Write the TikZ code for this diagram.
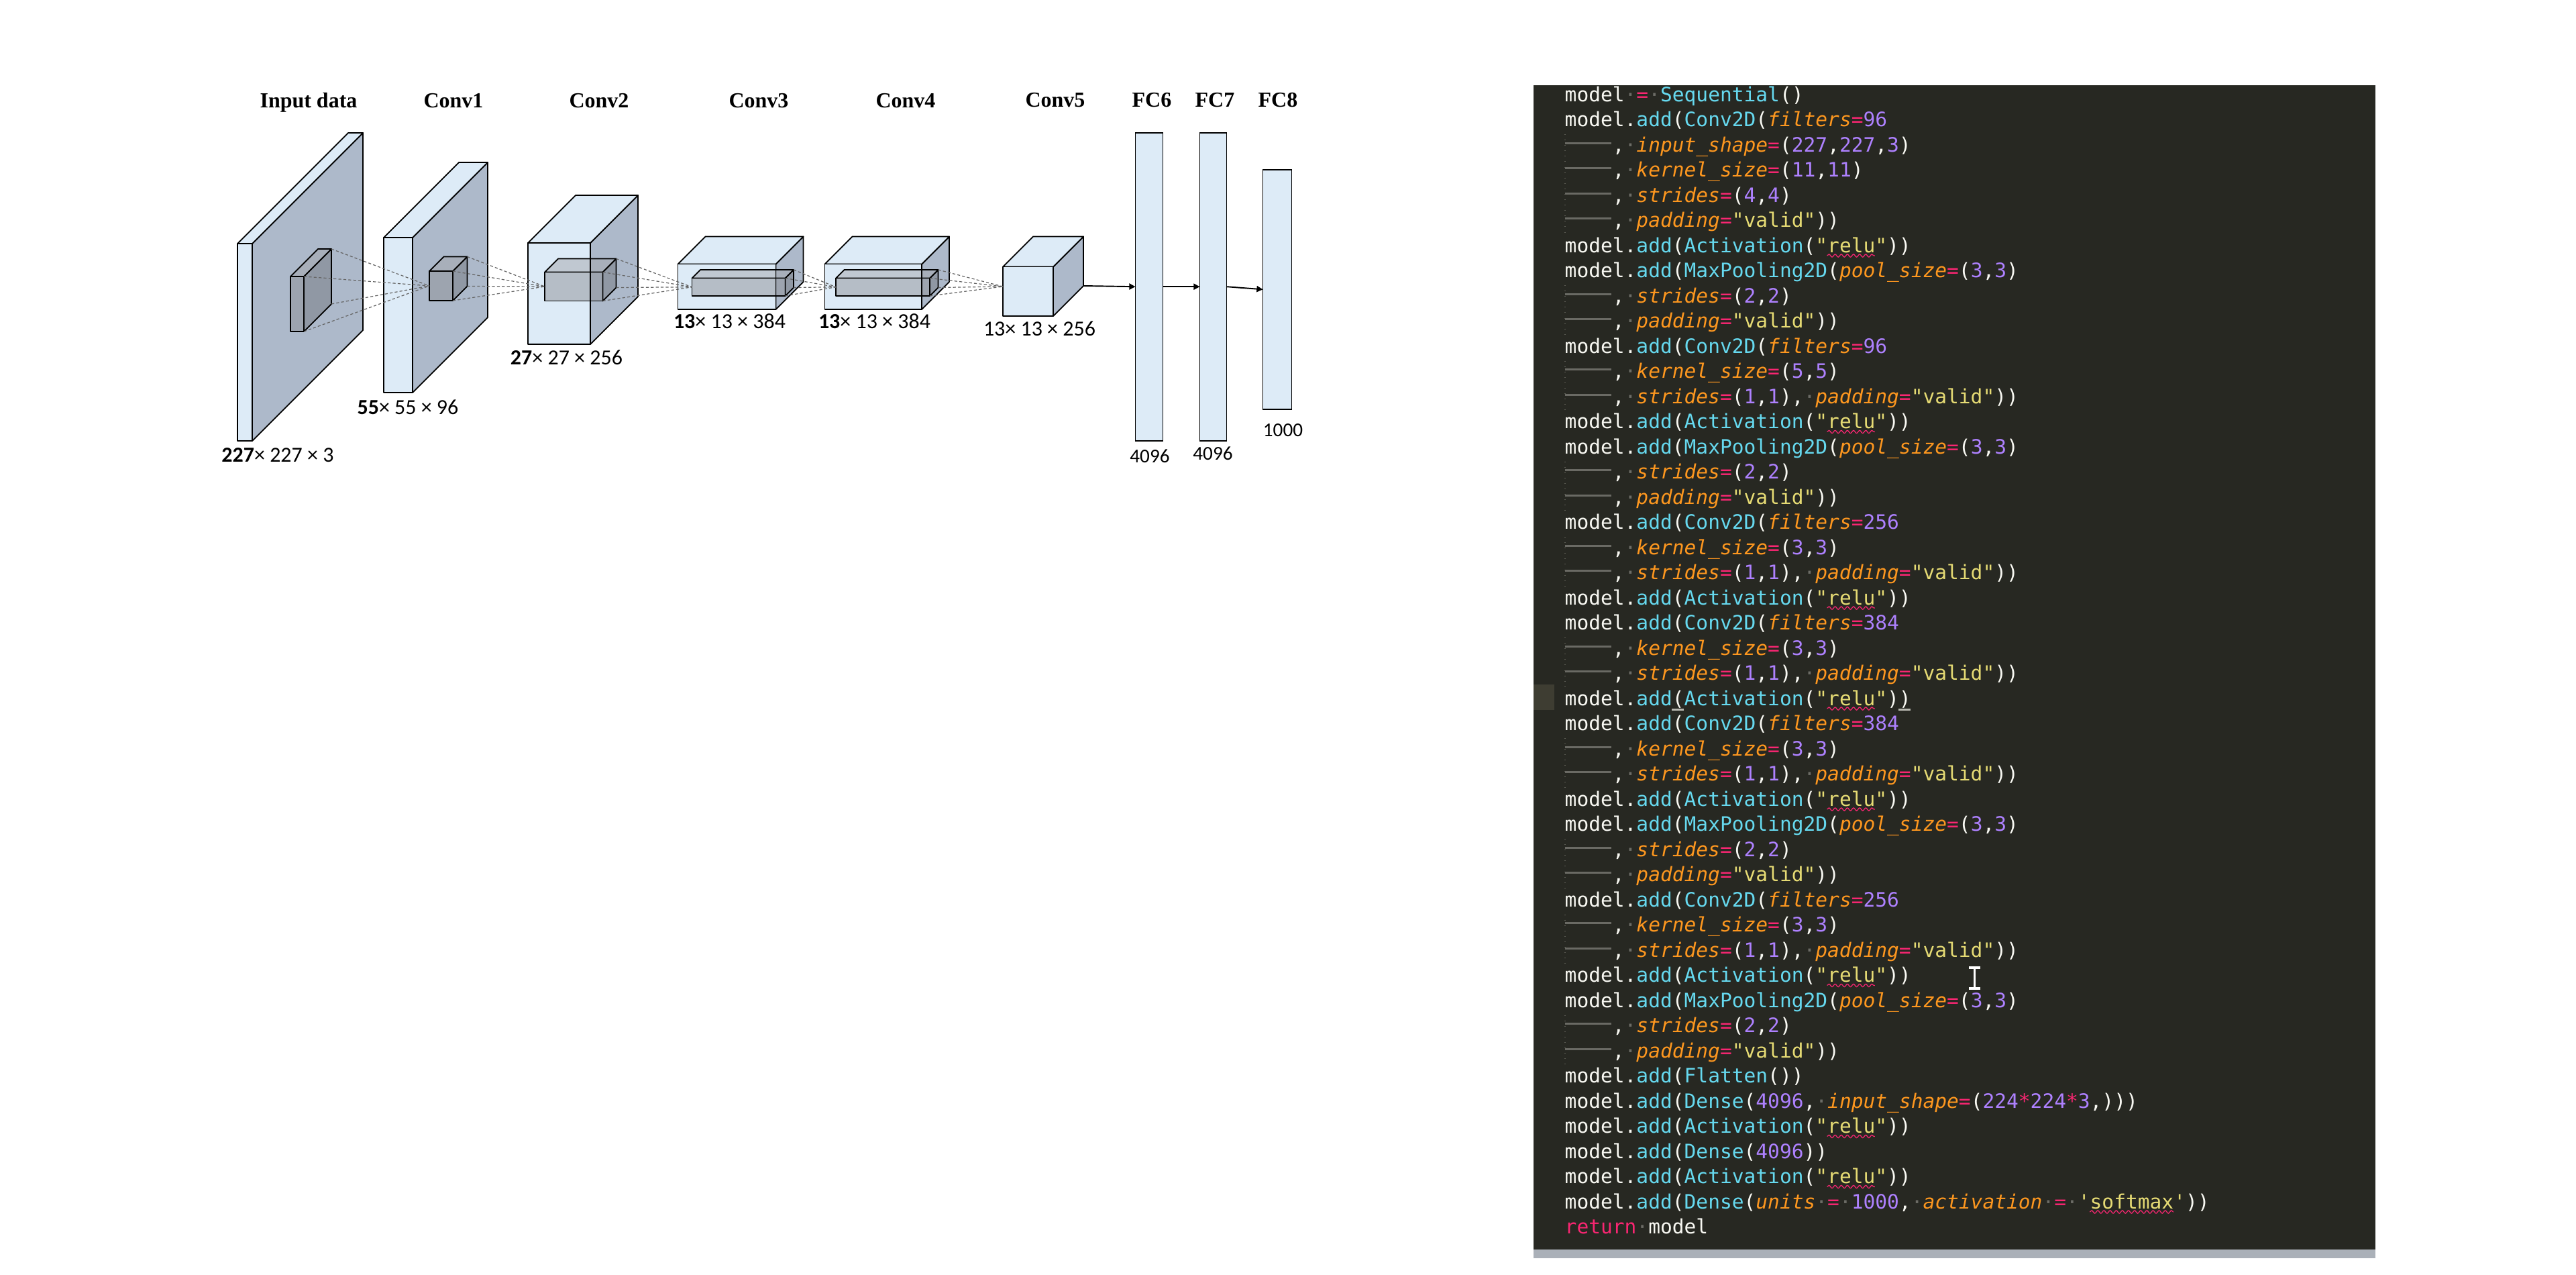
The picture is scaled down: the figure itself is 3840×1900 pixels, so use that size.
\documentclass[tikz,border=0pt]{standalone}
\usepackage{fontspec}
\setmonofont{DejaVu Sans Mono}
\newfontfamily\headserif{Liberation Serif}
\newfontfamily\dimsans{Carlito}
\usetikzlibrary{arrows.meta,decorations.pathmorphing}

\definecolor{faceblue}{HTML}{DDEBF7}
\definecolor{facegray}{HTML}{ADB9CA}
\definecolor{kerngray}{HTML}{8E9196}
\definecolor{kernlight}{HTML}{A4A7AC}
\definecolor{kerndark}{HTML}{75797F}
\definecolor{raygray}{HTML}{666666}
\definecolor{editorbg}{HTML}{272822}
\definecolor{gutterhl}{HTML}{3E3D32}
\definecolor{stripgray}{HTML}{AAB0B8}
\definecolor{cwhite}{HTML}{F8F8F2}
\definecolor{cpink}{HTML}{F92672}
\definecolor{ccyan}{HTML}{66D9EF}
\definecolor{corange}{HTML}{FD971F}
\definecolor{cpurple}{HTML}{AE81FF}
\definecolor{cyellow}{HTML}{E6DB74}
\definecolor{cdot}{HTML}{6C6C66}
\definecolor{ctab}{HTML}{6A6A64}
\definecolor{cguide}{HTML}{5A5A52}
\definecolor{cmatch}{HTML}{B8B8B0}

% code tokens
\newcommand{\cop}[1]{\textcolor{cpink}{#1}}
\newcommand{\cfn}[1]{\textcolor{ccyan}{#1}}
\newcommand{\cpa}[1]{\textcolor{corange}{\itshape #1}}
\newcommand{\cnb}[1]{\textcolor{cpurple}{#1}}
\newcommand{\cst}[1]{\textcolor{cyellow}{#1}}
\newcommand{\ws}{\textcolor{cdot}{·}}
\newcommand{\tabbar}{\makebox[2.408em][l]{\textcolor{ctab}{\rule[0.38em]{2.33em}{0.11em}}}}

% name, kind, x, y, w, h, depth
\newcommand{\cuboid}[7]{%
  \coordinate (#1-ftl) at (#3,#4);
  \coordinate (#1-ftr) at ({#3+#5},#4);
  \coordinate (#1-fbr) at ({#3+#5},{#4+#6});
  \coordinate (#1-btr) at ({#3+#5+#7},{#4-#7});
  \coordinate (#1-bbr) at ({#3+#5+#7},{#4+#6-#7});
  \coordinate (#1-lm) at (#3,{#4+#6/2});
  \filldraw[#2side] (#1-ftr) -- (#1-btr) -- (#1-bbr) -- (#1-fbr) -- cycle;
  \filldraw[#2top] (#1-ftl) -- ++(#7,-#7) -- (#1-btr) -- (#1-ftr) -- cycle;
  \filldraw[#2front] (#1-ftl) rectangle (#1-fbr);
}

\tikzset{
  boxfront/.style={fill=faceblue, draw=black, line width=0.5pt, line join=round},
  boxtop/.style={fill=faceblue, draw=black, line width=0.5pt, line join=round},
  boxside/.style={fill=facegray, draw=black, line width=0.5pt, line join=round},
  kernfront/.style={fill=kerngray, fill opacity=0.5, draw=black, line width=0.5pt, line join=round},
  kerntop/.style={fill=kernlight, fill opacity=0.5, draw=black, line width=0.5pt, line join=round},
  kernside/.style={fill=kerndark, fill opacity=0.5, draw=black, line width=0.5pt, line join=round},
  boxedge/.style={draw=black, line width=0.5pt},
  rays/.style={draw=raygray, line width=0.35pt, dash pattern=on 1.2pt off 0.9pt},
  flow/.style={-{Triangle[length=2.6pt,width=2.6pt]}, line width=0.55pt},
  fcbar/.style={fill=faceblue, draw=black, line width=0.5pt, inner sep=0pt, outer sep=0pt},
  layerhead/.style={anchor=base, inner sep=0pt, font=\headserif\bfseries\fontsize{9.1}{11}\selectfont},
  dimlabel/.style={anchor=base, inner sep=0pt, font=\dimsans\fontsize{9.1}{11}\selectfont},
  fcnum/.style={anchor=base, inner sep=0pt, font=\dimsans\fontsize{8.3}{10}\selectfont},
  codeline/.style={anchor=base west, inner sep=0pt, text=cwhite, font=\ttfamily\fontsize{8.41}{10}\selectfont},
  indentguide/.style={draw=cguide, line width=0.3pt, dotted},
  squiggle/.style={draw=cpink, line width=0.35pt, decorate, decoration={snake, amplitude=0.6pt, segment length=2.6pt}},
  ibeam/.style={draw=white, line width=0.9pt},
}

\begin{document}
\begin{tikzpicture}[x=0.1mm, y=-0.1mm]
  \useasboundingbox (0,0) rectangle (3840,1900);
  \fill[white] (0,0) rectangle (3840,1900);

  % layer titles
  \node[layerhead] (hin) at (460,160) {Input data};
  \node[layerhead] (hc1) at (676,160) {Conv1};
  \node[layerhead] (hc2) at (893,160) {Conv2};
  \node[layerhead] (hc3) at (1131,160) {Conv3};
  \node[layerhead] (hc4) at (1350,160) {Conv4};
  \node[layerhead] (hc5) at (1573,159) {Conv5};
  \node[layerhead] (hfc6) at (1717,159) {FC6};
  \node[layerhead] (hfc7) at (1811,159) {FC7};
  \node[layerhead] (hfc8) at (1905,159) {FC8};

  % feature maps and kernels
  \cuboid{in}{box}{354}{363}{22}{294}{165}
  \cuboid{ink}{kern}{433}{412}{20}{82}{41}
  \cuboid{c1}{box}{572}{354}{43}{231}{112}
  \cuboid{c1k}{kern}{640}{404}{35}{44}{21.5}
  \cuboid{c2}{box}{787}{362}{93}{151}{71}
  \cuboid{c2k}{kern}{812}{405.5}{86.5}{43}{20}
  \draw[boxedge] (c2-ftr) -- (c2-fbr);
  \cuboid{c3}{box}{1010.5}{393.5}{146}{67.5}{41}
  \cuboid{c3k}{kern}{1031.5}{414.5}{139}{26.5}{12.5}
  \draw[boxedge] (c3-ftr) -- (c3-fbr);
  \cuboid{c4}{box}{1229.5}{393.5}{144.5}{67.5}{41}
  \cuboid{c4k}{kern}{1246}{414.5}{140}{26.5}{12.5}
  \draw[boxedge] (c4-ftr) -- (c4-fbr);
  \cuboid{c5}{box}{1495}{397.5}{75}{73.5}{45}
  \coordinate (c5-in) at (1495,427);

  % receptive field rays
  \foreach \k/\n in {ink/c1k-lm, c1k/c2k-lm, c2k/c3k-lm, c3k/c4k-lm, c4k/c5-in}
    \foreach \c in {ftr,btr,bbr,fbr}
      \draw[rays] (\k-\c) -- (\n);

  % fully connected layers
  \node[fcbar, minimum width=4.1mm, minimum height=45.9mm] (fc6) at (1713,427.2) {};
  \node[fcbar, minimum width=4.0mm, minimum height=45.9mm] (fc7) at (1808.5,427.2) {};
  \node[fcbar, minimum width=4.3mm, minimum height=35.7mm] (fc8) at (1904,431.3) {};
  \draw[flow] (c5-bbr) -- (fc6.west);
  \draw[flow] (fc6.east) -- (fc7.west);
  \draw[flow] (fc7.east) -- (fc8.west);

  % sizes
  \node[dimlabel] (din) at (414,688) {\textbf{227}× 227 × 3};
  \node[dimlabel] (dc1) at (608,617) {\textbf{55}× 55 × 96};
  \node[dimlabel] (dc2) at (844.5,543) {\textbf{27}× 27 × 256};
  \node[dimlabel] (dc3) at (1087.5,489.5) {\textbf{13}× 13 × 384};
  \node[dimlabel] (dc4) at (1303.5,489.5) {\textbf{13}× 13 × 384};
  \node[dimlabel] (dc5) at (1549.5,500.5) {13× 13 × 256};
  \node[fcnum] (dfc6) at (1714,689) {4096};
  \node[fcnum] (dfc7) at (1808,685) {4096};
  \node[fcnum] (dfc8) at (1912.5,650) {1000};

  % editor panel
  \fill[editorbg] (2286,127) rectangle (3541,1862);
  \fill[stripgray] (2286,1862) rectangle (3541,1875);
  \fill[gutterhl] (2286,1020) rectangle (2317,1058);
  \fill[cmatch] (2492.2,1056) rectangle (2510,1059);
  \fill[cmatch] (2830.4,1056) rectangle (2848.2,1059);
  \foreach \a/\b in {3/6, 9/10, 12/13, 16/17, 19/20, 23/24, 27/28, 31/32, 34/35, 38/39}
    \draw[indentguide] (2333,{151+(\a-1)*37.5-26}) -- (2333,{151+(\b-1)*37.5+11.5});

  \node[codeline] (l1) at (2332,151) {model\ws\cop{=}\ws\cfn{Sequential}()};
  \node[codeline] (l2) at (2332,188.5) {model.\cfn{add}(\cfn{Conv2D}(\cpa{filters}\cop{=}\cnb{96}};
  \node[codeline] (l3) at (2332,226) {\tabbar,\ws\cpa{input\_shape}\cop{=}(\cnb{227},\cnb{227},\cnb{3})};
  \node[codeline] (l4) at (2332,263.5) {\tabbar,\ws\cpa{kernel\_size}\cop{=}(\cnb{11},\cnb{11})};
  \node[codeline] (l5) at (2332,301) {\tabbar,\ws\cpa{strides}\cop{=}(\cnb{4},\cnb{4})};
  \node[codeline] (l6) at (2332,338.5) {\tabbar,\ws\cpa{padding}\cop{=}\cst{"valid"}))};
  \node[codeline] (l7) at (2332,376) {model.\cfn{add}(\cfn{Activation}(\cst{"relu"}))};
  \node[codeline] (l8) at (2332,413.5) {model.\cfn{add}(\cfn{MaxPooling2D}(\cpa{pool\_size}\cop{=}(\cnb{3},\cnb{3})};
  \node[codeline] (l9) at (2332,451) {\tabbar,\ws\cpa{strides}\cop{=}(\cnb{2},\cnb{2})};
  \node[codeline] (l10) at (2332,488.5) {\tabbar,\ws\cpa{padding}\cop{=}\cst{"valid"}))};
  \node[codeline] (l11) at (2332,526) {model.\cfn{add}(\cfn{Conv2D}(\cpa{filters}\cop{=}\cnb{96}};
  \node[codeline] (l12) at (2332,563.5) {\tabbar,\ws\cpa{kernel\_size}\cop{=}(\cnb{5},\cnb{5})};
  \node[codeline] (l13) at (2332,601) {\tabbar,\ws\cpa{strides}\cop{=}(\cnb{1},\cnb{1}),\ws\cpa{padding}\cop{=}\cst{"valid"}))};
  \node[codeline] (l14) at (2332,638.5) {model.\cfn{add}(\cfn{Activation}(\cst{"relu"}))};
  \node[codeline] (l15) at (2332,676) {model.\cfn{add}(\cfn{MaxPooling2D}(\cpa{pool\_size}\cop{=}(\cnb{3},\cnb{3})};
  \node[codeline] (l16) at (2332,713.5) {\tabbar,\ws\cpa{strides}\cop{=}(\cnb{2},\cnb{2})};
  \node[codeline] (l17) at (2332,751) {\tabbar,\ws\cpa{padding}\cop{=}\cst{"valid"}))};
  \node[codeline] (l18) at (2332,788.5) {model.\cfn{add}(\cfn{Conv2D}(\cpa{filters}\cop{=}\cnb{256}};
  \node[codeline] (l19) at (2332,826) {\tabbar,\ws\cpa{kernel\_size}\cop{=}(\cnb{3},\cnb{3})};
  \node[codeline] (l20) at (2332,863.5) {\tabbar,\ws\cpa{strides}\cop{=}(\cnb{1},\cnb{1}),\ws\cpa{padding}\cop{=}\cst{"valid"}))};
  \node[codeline] (l21) at (2332,901) {model.\cfn{add}(\cfn{Activation}(\cst{"relu"}))};
  \node[codeline] (l22) at (2332,938.5) {model.\cfn{add}(\cfn{Conv2D}(\cpa{filters}\cop{=}\cnb{384}};
  \node[codeline] (l23) at (2332,976) {\tabbar,\ws\cpa{kernel\_size}\cop{=}(\cnb{3},\cnb{3})};
  \node[codeline] (l24) at (2332,1013.5) {\tabbar,\ws\cpa{strides}\cop{=}(\cnb{1},\cnb{1}),\ws\cpa{padding}\cop{=}\cst{"valid"}))};
  \node[codeline] (l25) at (2332,1051) {model.\cfn{add}(\cfn{Activation}(\cst{"relu"}))};
  \node[codeline] (l26) at (2332,1088.5) {model.\cfn{add}(\cfn{Conv2D}(\cpa{filters}\cop{=}\cnb{384}};
  \node[codeline] (l27) at (2332,1126) {\tabbar,\ws\cpa{kernel\_size}\cop{=}(\cnb{3},\cnb{3})};
  \node[codeline] (l28) at (2332,1163.5) {\tabbar,\ws\cpa{strides}\cop{=}(\cnb{1},\cnb{1}),\ws\cpa{padding}\cop{=}\cst{"valid"}))};
  \node[codeline] (l29) at (2332,1201) {model.\cfn{add}(\cfn{Activation}(\cst{"relu"}))};
  \node[codeline] (l30) at (2332,1238.5) {model.\cfn{add}(\cfn{MaxPooling2D}(\cpa{pool\_size}\cop{=}(\cnb{3},\cnb{3})};
  \node[codeline] (l31) at (2332,1276) {\tabbar,\ws\cpa{strides}\cop{=}(\cnb{2},\cnb{2})};
  \node[codeline] (l32) at (2332,1313.5) {\tabbar,\ws\cpa{padding}\cop{=}\cst{"valid"}))};
  \node[codeline] (l33) at (2332,1351) {model.\cfn{add}(\cfn{Conv2D}(\cpa{filters}\cop{=}\cnb{256}};
  \node[codeline] (l34) at (2332,1388.5) {\tabbar,\ws\cpa{kernel\_size}\cop{=}(\cnb{3},\cnb{3})};
  \node[codeline] (l35) at (2332,1426) {\tabbar,\ws\cpa{strides}\cop{=}(\cnb{1},\cnb{1}),\ws\cpa{padding}\cop{=}\cst{"valid"}))};
  \node[codeline] (l36) at (2332,1463.5) {model.\cfn{add}(\cfn{Activation}(\cst{"relu"}))};
  \node[codeline] (l37) at (2332,1501) {model.\cfn{add}(\cfn{MaxPooling2D}(\cpa{pool\_size}\cop{=}(\cnb{3},\cnb{3})};
  \node[codeline] (l38) at (2332,1538.5) {\tabbar,\ws\cpa{strides}\cop{=}(\cnb{2},\cnb{2})};
  \node[codeline] (l39) at (2332,1576) {\tabbar,\ws\cpa{padding}\cop{=}\cst{"valid"}))};
  \node[codeline] (l40) at (2332,1613.5) {model.\cfn{add}(\cfn{Flatten}())};
  \node[codeline] (l41) at (2332,1651) {model.\cfn{add}(\cfn{Dense}(\cnb{4096},\ws\cpa{input\_shape}\cop{=}(\cnb{224}\cop{*}\cnb{224}\cop{*}\cnb{3},)))};
  \node[codeline] (l42) at (2332,1688.5) {model.\cfn{add}(\cfn{Activation}(\cst{"relu"}))};
  \node[codeline] (l43) at (2332,1726) {model.\cfn{add}(\cfn{Dense}(\cnb{4096}))};
  \node[codeline] (l44) at (2332,1763.5) {model.\cfn{add}(\cfn{Activation}(\cst{"relu"}))};
  \node[codeline] (l45) at (2332,1801) {model.\cfn{add}(\cfn{Dense}(\cpa{units}\ws\cop{=}\ws\cnb{1000},\ws\cpa{activation}\ws\cop{=}\ws\cst{'softmax'}))};
  \node[codeline] (l46) at (2332,1838.5) {\cop{return}\ws model};

  % spell-check marks
  \foreach \k in {7,14,21,25,29,36,42,44}
    \draw[squiggle] ({2332+22*17.8},{151+(\k-1)*37.5+5}) -- ({2332+26*17.8},{151+(\k-1)*37.5+5});
  \draw[squiggle] ({2332+44*17.8},{151+44*37.5+5}) -- ({2332+51*17.8},{151+44*37.5+5});

  % text cursor
  \draw[ibeam] (2935,1442) -- (2952,1442) (2943.5,1442) -- (2943.5,1473) (2935,1473) -- (2952,1473);
\end{tikzpicture}
\end{document}
